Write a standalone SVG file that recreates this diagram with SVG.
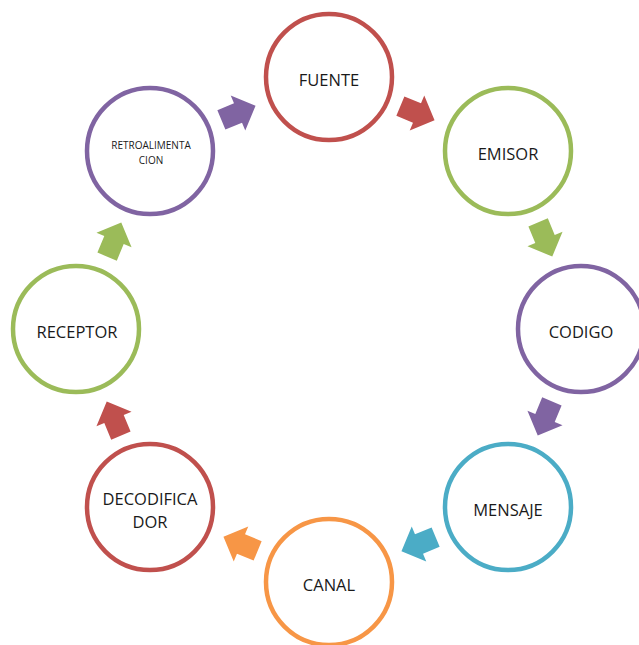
<svg xmlns="http://www.w3.org/2000/svg" width="639" height="645" viewBox="0 0 639 645">
<style>
.c{fill:#fff;stroke-width:4.5}
.t{font-family:"Open Sans","Liberation Sans",sans-serif;font-size:16.5px;fill:#1a1a1a;text-anchor:middle;dominant-baseline:central}
.s{font-size:10px}
.red{stroke:#C0504D}.grn{stroke:#9BBB59}.pur{stroke:#8064A2}.teal{stroke:#4BACC6}.org{stroke:#F79646}
</style>
<defs>
<polygon id="arr" points="-18,-10.5 0,-10.5 0,-19 19,0 0,19 0,10.5 -18,10.5"/>
</defs>
<rect width="639" height="645" fill="#fff"/>
<g id="connectors">
<use href="#arr" fill="#C0504D" transform="translate(417,113) rotate(22.5)"/>
<use href="#arr" fill="#9BBB59" transform="translate(545,239) rotate(67.5)"/>
<use href="#arr" fill="#8064A2" transform="translate(545,418) rotate(112.5)"/>
<use href="#arr" fill="#4BACC6" transform="translate(419,544) rotate(157.5)"/>
<use href="#arr" fill="#F79646" transform="translate(241,544) rotate(202.5)"/>
<use href="#arr" fill="#C0504D" transform="translate(114,419) rotate(247.5)"/>
<use href="#arr" fill="#9BBB59" transform="translate(114,240) rotate(292.5)"/>
<use href="#arr" fill="#8064A2" transform="translate(238,113) rotate(337.5)"/>
</g>
<g id="fuente"><circle class="c red" cx="329" cy="77" r="63"/><text class="t" x="329" y="79">FUENTE</text></g>
<g id="emisor"><circle class="c grn" cx="508" cy="151" r="63"/><text class="t" x="508" y="153">EMISOR</text></g>
<g id="codigo"><circle class="c pur" cx="581" cy="329" r="63"/><text class="t" x="581" y="331">CODIGO</text></g>
<g id="mensaje"><circle class="c teal" cx="508" cy="507" r="63"/><text class="t" x="508" y="509">MENSAJE</text></g>
<g id="canal"><circle class="c org" cx="329" cy="582" r="63"/><text class="t" x="329" y="584">CANAL</text></g>
<g id="decodificador"><circle class="c red" cx="150" cy="507" r="63"/><text class="t" x="150" y="498">DECODIFICA</text><text class="t" x="150" y="521">DOR</text></g>
<g id="receptor"><circle class="c grn" cx="76" cy="329" r="63"/><text class="t" x="77" y="331">RECEPTOR</text></g>
<g id="retroalimentacion"><circle class="c pur" cx="150" cy="151" r="63"/><text class="t s" x="151" y="145">RETROALIMENTA</text><text class="t s" x="151" y="160">CION</text></g>
</svg>
